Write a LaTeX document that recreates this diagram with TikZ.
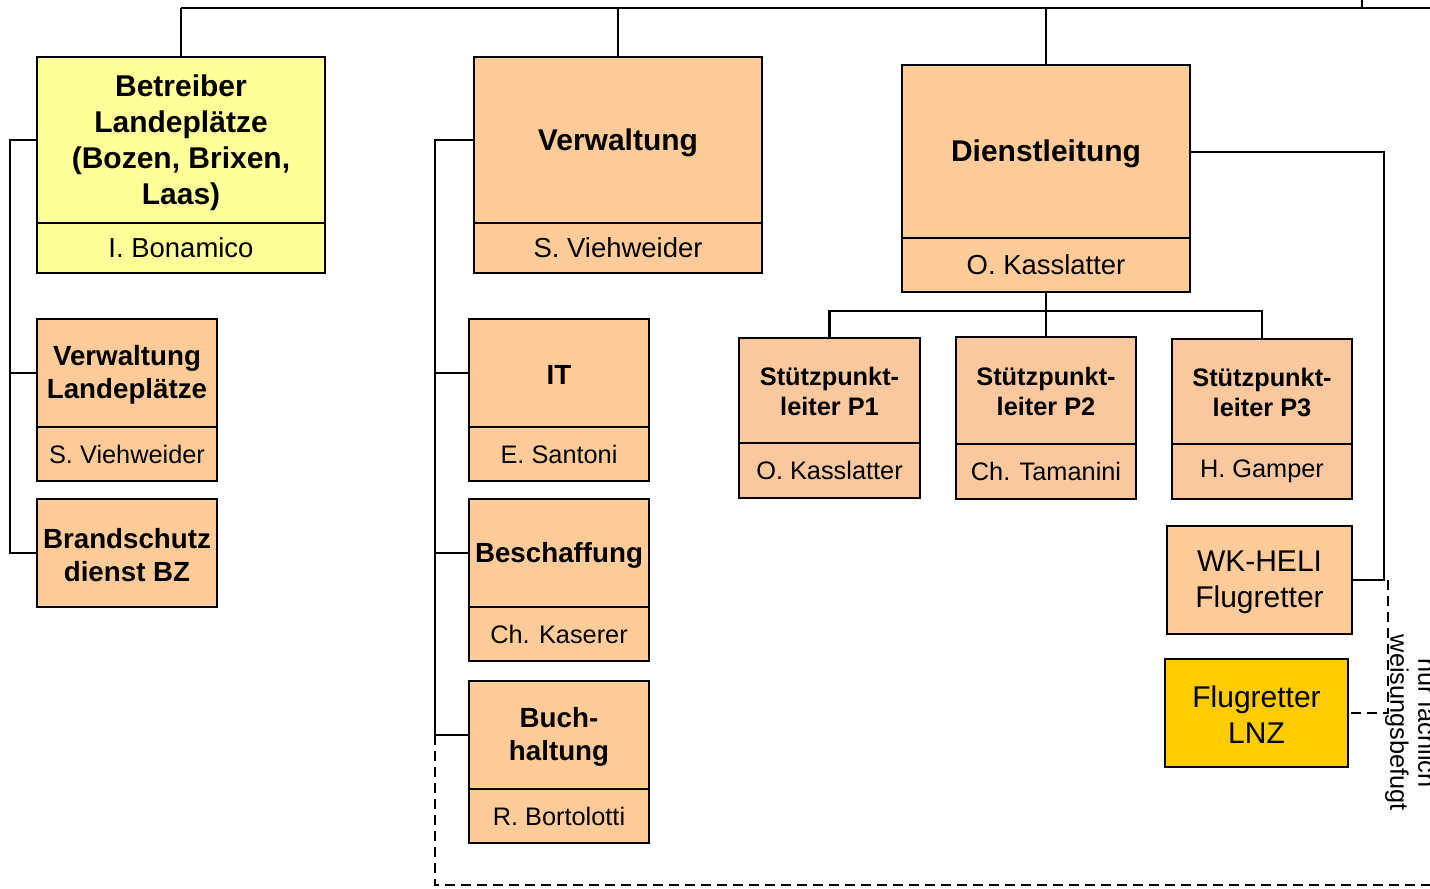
\documentclass[tikz,border=0pt]{standalone}
\usepackage{fontspec}
\setmainfont{Liberation Sans}
\usetikzlibrary{fit}
\definecolor{orangebox}{HTML}{FFCC99}
\definecolor{pinkbox}{HTML}{F9C89E}
\definecolor{yellowbox}{HTML}{FFFF99}
\definecolor{goldbox}{HTML}{FFCC00}
\begin{document}
\begin{tikzpicture}[x=0.75pt,y=-0.75pt,line width=1.7pt,
  box/.style={draw,inner sep=0pt},
  txt/.style={inner sep=0pt,align=center,text=black},
  dashconn/.style={dash pattern=on 7.5pt off 4.5pt},
  bigtitle/.style={txt,yshift=-2pt,font=\fontsize{22.5}{27}\selectfont\bfseries},
  midtitle/.style={txt,yshift=-1.5pt,font=\fontsize{20.8}{24.75}\selectfont\bfseries},
  smalltitle/.style={txt,yshift=-1pt,font=\fontsize{19}{22.5}\selectfont\bfseries},
  bigname/.style={txt,font=\fontsize{20.6}{24}\selectfont},
  smallname/.style={txt,font=\fontsize{19}{22}\selectfont},
  plaintitle/.style={txt,yshift=-1.5pt,font=\fontsize{22.5}{27}\selectfont},
  notefont/.style={txt,font=\fontsize{19}{21}\selectfont}]
\useasboundingbox (0,0) rectangle (1430,888);

% top level boxes
\node[box,fill=yellowbox,fit={(37,57) (325,223)}] (betT) {};
\node[box,fill=yellowbox,fit={(37,223) (325,273)}] (betN) {};
\node[box,fill=orangebox,fit={(474,57) (762,223)}] (verT) {};
\node[box,fill=orangebox,fit={(474,223) (762,273)}] (verN) {};
\node[box,fill=orangebox,fit={(902,65) (1190,238)}] (dlT) {};
\node[box,fill=orangebox,fit={(902,238) (1190,292)}] (dlN) {};
\node[bigtitle] (betTt) at (betT.center) {Betreiber\\Landeplätze\\(Bozen, Brixen,\\Laas)};
\node[bigname] (betNt) at (betN.center) {I. Bonamico};
\node[bigtitle] (verTt) at (verT.center) {Verwaltung};
\node[bigname] (verNt) at (verN.center) {S. Viehweider};
\node[bigtitle] (dlTt) at (dlT.center) {Dienstleitung};
\node[bigname] (dlNt) at (dlN.center) {O. Kasslatter};

% left column
\node[box,fill=orangebox,fit={(37,319) (217,427)}] (vlT) {};
\node[box,fill=orangebox,fit={(37,427) (217,481)}] (vlN) {};
\node[box,fill=orangebox,fit={(37,499) (217,607)}] (bsT) {};
\node[midtitle] (vlTt) at (vlT.center) {Verwaltung\\Landeplätze};
\node[smallname] (vlNt) at (vlN.center) {S. Viehweider};
\node[midtitle] (bsTt) at (bsT.center) {Brandschutz\\dienst BZ};

% middle column
\node[box,fill=orangebox,fit={(469,319) (649,427)}] (itT) {};
\node[box,fill=orangebox,fit={(469,427) (649,481)}] (itN) {};
\node[box,fill=orangebox,fit={(469,499) (649,607)}] (beT) {};
\node[box,fill=orangebox,fit={(469,607) (649,661)}] (beN) {};
\node[box,fill=orangebox,fit={(469,681) (649,789)}] (buT) {};
\node[box,fill=orangebox,fit={(469,789) (649,843)}] (buN) {};
\node[midtitle] (itTt) at (itT.center) {IT};
\node[smallname] (itNt) at (itN.center) {E. Santoni};
\node[midtitle] (beTt) at (beT.center) {Beschaffung};
\node[smallname] (beNt) at (beN.center) {Ch. Kaserer};
\node[midtitle] (buTt) at (buT.center) {Buch-\\haltung};
\node[smallname] (buNt) at (buN.center) {R. Bortolotti};

% Stuetzpunktleiter
\node[box,fill=pinkbox,fit={(739,338) (920,443)}] (p1T) {};
\node[box,fill=pinkbox,fit={(739,443) (920,498)}] (p1N) {};
\node[box,fill=pinkbox,fit={(956,337) (1136,444)}] (p2T) {};
\node[box,fill=pinkbox,fit={(956,444) (1136,499)}] (p2N) {};
\node[box,fill=pinkbox,fit={(1172,339) (1352,444)}] (p3T) {};
\node[box,fill=pinkbox,fit={(1172,444) (1352,499)}] (p3N) {};
\node[smalltitle] (p1Tt) at (p1T.center) {Stützpunkt-\\leiter P1};
\node[smallname] (p1Nt) at (p1N.center) {O. Kasslatter};
\node[smalltitle] (p2Tt) at (p2T.center) {Stützpunkt-\\leiter P2};
\node[smallname] (p2Nt) at (p2N.center) {Ch. Tamanini};
\node[smalltitle] (p3Tt) at (p3T.center) {Stützpunkt-\\leiter P3};
\node[smallname] (p3Nt) at (p3N.center) {H. Gamper};

% Flugretter
\node[box,fill=orangebox,fit={(1167,526) (1352,634)}] (wk) {};
\node[box,fill=goldbox,fit={(1165,659) (1348,767)}] (lnz) {};
\node[plaintitle] (wkt) at (wk.center) {WK-HELI\\Flugretter};
\node[plaintitle] (lnzt) at (lnz.center) {Flugretter\\LNZ};

% note
\node[notefont,rotate=-90] (note) at (1411,723) {nur fachlich\\weisungsbefugt};

% coordinates
\coordinate (topL) at (181,8);
\coordinate (topR) at (1430,8);
\coordinate (tick) at (1362,0);
\coordinate (lbus) at (10,140);
\coordinate (mbus) at (435,140);
\coordinate (dbus) at (1046,311);
\coordinate (rbus) at (1384,152);
\coordinate (dstart) at (1388,580);
\coordinate (bottom) at (1430,885);

% connectors
\draw (topL) -- (topR);
\draw (tick) -- (tick |- topR);
\draw (betT.north) -- (betT.north |- topL);
\draw (verT.north) -- (verT.north |- topL);
\draw (dlT.north) -- (dlT.north |- topL);

\draw (betT.west) -- (lbus) -- (lbus |- bsT.west) -- (bsT.west);
\draw (lbus |- vlT.west) -- (vlT.west);

\draw (verT.west) -- (mbus) -- (mbus |- buT.west) -- (buT.west);
\draw (mbus |- itT.west) -- (itT.west);
\draw (mbus |- beT.west) -- (beT.west);

\draw (dlN.south) -- (dbus);
\draw (p1T.north) -- (p1T.north |- dbus) -- (p3T.north |- dbus) -- (p3T.north);
\draw (p2T.north) -- (dbus);

\draw (dlT.east |- rbus) -- (rbus) -- (rbus |- wk.east) -- (wk.east);
\draw[dashconn] (dstart) -- (dstart |- lnz.east) -- (lnz.east);
\draw[dashconn] (mbus |- buT.west) -- (mbus |- bottom) -- (bottom);
\end{tikzpicture}
\end{document}
